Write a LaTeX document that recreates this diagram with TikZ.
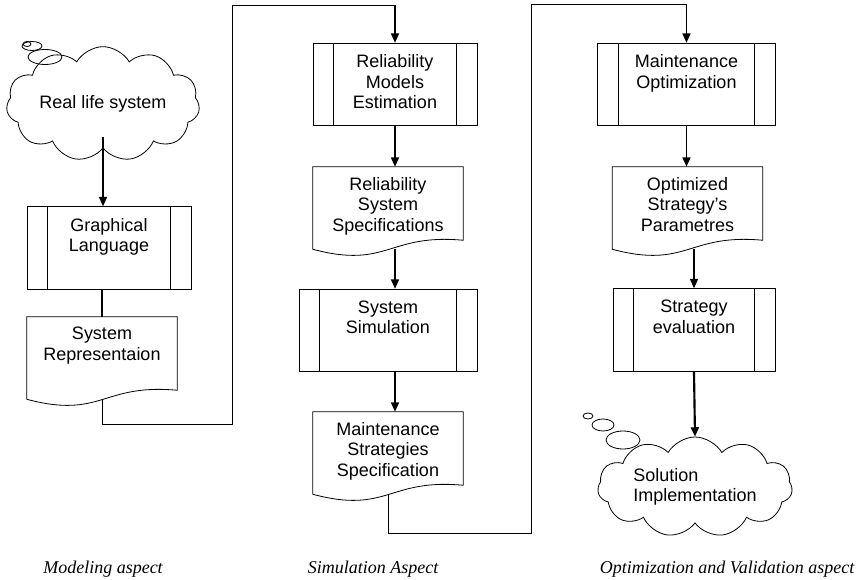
\documentclass[tikz,border=0pt]{standalone}
\usepackage{fontspec}
\setmainfont{Liberation Sans}
\newfontfamily\capfont{Liberation Serif}
\usetikzlibrary{arrows.meta,shapes.symbols}

\begin{document}
\begin{tikzpicture}[x=0.75pt, y=-0.75pt,
  proc/.style={draw, line width=0.6pt, minimum width=123pt, minimum height=62pt, inner sep=0pt},
  doc/.style={minimum width=112.5pt, minimum height=61.5pt, inner sep=0pt},
  txt/.style={anchor=north, align=center, inner sep=0pt, font=\fontsize{13.5}{15.5}\selectfont},
  bubble/.style={cloud, draw, line width=0.6pt, cloud puffs=11, cloud puff arc=120,
    cloud ignores aspect, inner sep=0pt, font=\fontsize{13.5}{15.5}\selectfont},
  edge/.style={line width=0.6pt},
  flow/.style={-{Triangle[length=7pt,width=6pt]}, line width=1.2pt},
  colcap/.style={font=\capfont\itshape\fontsize{13.5}{15}\selectfont, inner sep=0pt}
]
  \useasboundingbox (0,0) rectangle (861,580);

  % modeling column
  \node[bubble, minimum width=145pt, minimum height=86pt] (real) at (103,104) {Real life system};
  \draw[edge] (45,57) ellipse [x radius=17, y radius=7.5];
  \draw[edge] (32,46) ellipse [x radius=10, y radius=4.5];
  \draw[edge] (27,44) ellipse [x radius=4, y radius=2.5];
  \node[proc] (graph) at (109,248) {};
  \node[txt] (graph-t) at ([yshift=-8.6pt]graph.north) {Graphical\\Language};
  \node[doc] (sysrep) at (102,358) {};
  \node[txt] (sysrep-t) at ([yshift=-7.5pt]sysrep.north) {System\\Representaion};

  % simulation column
  \node[proc] (relmod) at (395,84.5) {};
  \node[txt] (relmod-t) at ([yshift=-8.6pt]relmod.north) {Reliability\\Models\\Estimation};
  \node[doc] (relspec) at (388,208) {};
  \node[txt] (relspec-t) at ([yshift=-7.5pt]relspec.north) {Reliability\\System\\Specifications};
  \node[proc, minimum width=133.5pt] (syssim) at (388,330.5) {};
  \node[txt] (syssim-t) at ([yshift=-8.6pt]syssim.north) {System\\Simulation};
  \node[doc] (maintspec) at (388,453) {};
  \node[txt] (maintspec-t) at ([yshift=-7.5pt]maintspec.north) {Maintenance\\Strategies\\Specification};

  % optimization column
  \node[proc, minimum width=133pt] (maintopt) at (686.5,84.5) {};
  \node[txt] (maintopt-t) at ([yshift=-8.6pt]maintopt.north) {Maintenance\\Optimization};
  \node[doc] (optpar) at (687.5,208) {};
  \node[txt] (optpar-t) at ([yshift=-7.5pt]optpar.north) {Optimized\\Strategy’s\\Parametres};
  \node[proc, minimum width=121.5pt] (strateval) at (694,330) {};
  \node[txt] (strateval-t) at ([yshift=-8.6pt]strateval.north) {Strategy\\evaluation};
  \node[bubble, minimum width=146pt, minimum height=75pt, align=left] (sol) at (695,487) {Solution\\Implementation};
  \draw[edge] (623,440) ellipse [x radius=17, y radius=9];
  \draw[edge] (603,425) ellipse [x radius=11, y radius=6];
  \draw[edge] (588,416) ellipse [x radius=5, y radius=3];

  % side bars and wavy bottoms
  \foreach \n in {graph,relmod,syssim,maintopt,strateval}{
    \draw[edge] ([xshift=15.75pt]\n.north west) -- ([xshift=15.75pt]\n.south west);
    \draw[edge] ([xshift=-15.75pt]\n.north east) -- ([xshift=-15.75pt]\n.south east);
  }
  \foreach \n in {sysrep,relspec,maintspec,optpar}
    \draw[edge] (\n.north west) -- (\n.south west)
      .. controls +(75,20) and +(-75,-7) .. ([yshift=6.75pt]\n.south east)
      -- (\n.north east) -- cycle;

  % connectors
  \coordinate (bend1) at (232,424);
  \coordinate (top1) at (relmod.north |- 0,5);
  \coordinate (bend2) at (531,533);
  \coordinate (top2) at (maintopt.north |- 0,4);

  \draw[flow] ([yshift=9pt]real.south) -- (real.south |- graph.north);
  \draw[line width=1.2pt] (sysrep.north |- graph.south) -- (sysrep.north);
  \draw[edge] (sysrep.south) |- (bend1) |- (top1);
  \draw[flow] (top1) -- (relmod.north);
  \draw[flow] (relmod.south) -- (relmod.south |- relspec.north);
  \draw[flow] (relspec.south -| relmod.south) -- (relmod.south |- syssim.north);
  \draw[flow] (relmod.south |- syssim.south) -- (relmod.south |- maintspec.north);
  \draw[edge] (maintspec.south) |- (bend2) |- (top2);
  \draw[flow] (top2) -- (maintopt.north);
  \draw[flow] (maintopt.south) -- (maintopt.south |- optpar.north);
  \draw[flow] (optpar.south -| strateval.north) -- (strateval.north);
  \draw[flow, line width=1.6pt] (strateval.south) -- (sol.north);

  % captions
  \node[colcap] (cap1) at (103,569) {Modeling aspect};
  \node[colcap] (cap2) at (373,569) {Simulation Aspect};
  \node[colcap] (cap3) at (727,569) {Optimization and Validation aspect};
\end{tikzpicture}
\end{document}
